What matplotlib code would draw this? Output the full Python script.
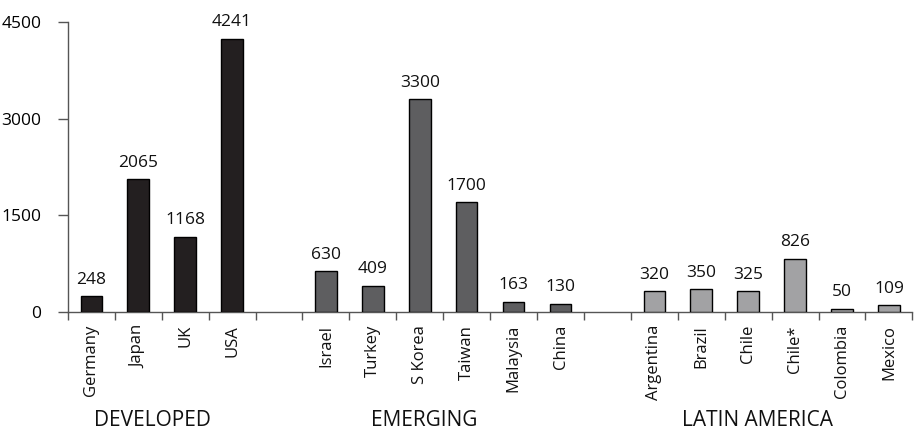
import matplotlib
matplotlib.use("Agg")
import matplotlib.pyplot as plt
import matplotlib.transforms as mtransforms
import numpy as np

# Country groups and values
developed = ["Germany", "Japan", "UK", "USA"]
developed_vals = [248, 2065, 1168, 4241]
emerging = ["Israel", "Turkey", "S Korea", "Taiwan", "Malaysia", "China"]
emerging_vals = [630, 409, 3300, 1700, 163, 130]
latin = ["Argentina", "Brazil", "Chile", "Chile*", "Colombia", "Mexico"]
latin_vals = [320, 350, 325, 826, 50, 109]
group_names = ["DEVELOPED", "EMERGING", "LATIN AMERICA"]
y_ticks = [0, 1500, 3000, 4500]

groups = [(developed, developed_vals, "#231f20"),
          (emerging, emerging_vals, "#5e5e60"),
          (latin, latin_vals, "#a2a2a4")]

font = "Open Sans"

fig = plt.figure(figsize=(9.17, 4.37), dpi=100)
ax = fig.add_axes([0.074, 0.286, 0.921, 0.664])

pos = 0
labels, positions, centers = [], [], []
for cats, vals, color in groups:
    xs = np.arange(pos, pos + len(cats))
    ax.bar(xs, vals, width=0.46, color=color, edgecolor="black", linewidth=1.0, zorder=3)
    for x, v in zip(xs, vals):
        ax.annotate(str(v), (x, v), xytext=(0, 6), textcoords="offset points",
                    ha="center", va="bottom", fontsize=12.5, family=font, color="#111111")
    labels += cats
    positions += list(xs)
    centers.append(xs.mean())
    pos += len(cats) + 1

n_slots = pos - 1
ax.set_xlim(-0.5, n_slots - 0.5)
ax.set_ylim(0, 4500)

# Separator ticks on the category axis
ax.set_xticks(np.arange(-0.5, n_slots, 1.0))
ax.set_xticklabels([])
ax.tick_params(axis="x", direction="out", length=6, color="#555555", width=1)

xdata_ypix = mtransforms.blended_transform_factory(ax.transData, ax.transAxes)
for x, lab in zip(positions, labels):
    ax.text(x, -0.045, lab, rotation=90, ha="center", va="top", fontsize=12,
            family=font, color="#111111", transform=xdata_ypix)

ax.set_yticks(y_ticks)
ax.set_yticklabels([str(t) for t in y_ticks], family=font, fontsize=12.5)
ax.tick_params(axis="y", direction="out", length=7, color="#555555", width=1, pad=12)

for side in ("top", "right"):
    ax.spines[side].set_visible(False)
for side in ("left", "bottom"):
    ax.spines[side].set_color("#555555")
    ax.spines[side].set_linewidth(1)

offsets = [-0.2, -0.4, -0.3]
for c, name, off in zip(centers, group_names, offsets):
    ax.text(c + off, -0.375, name, ha="center", va="center", fontsize=15,
            family=font, color="#111111", transform=xdata_ypix)

fig.savefig("out.png", dpi=100)
